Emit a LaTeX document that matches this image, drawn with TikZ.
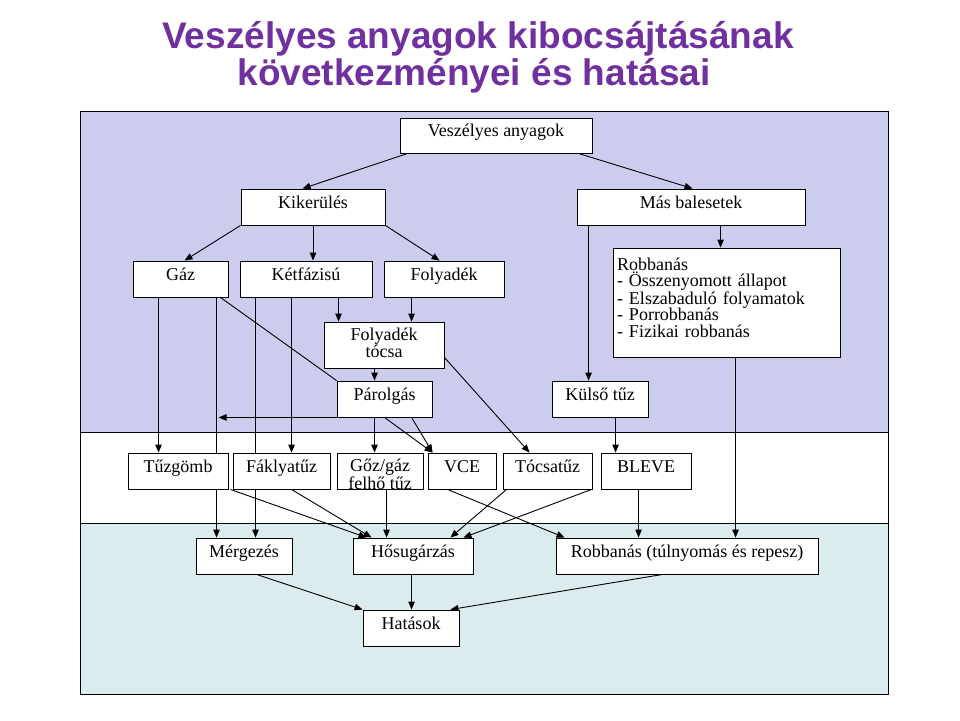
\documentclass[tikz,border=0pt]{standalone}
\usepackage{fontspec}
\setmainfont{Liberation Serif}
\newfontfamily\titlefont{Liberation Sans}
\usetikzlibrary{arrows.meta,calc}
\definecolor{lav}{RGB}{204,204,238}
\definecolor{aqua}{RGB}{218,236,238}
\definecolor{ttl}{RGB}{112,48,160}
\pgfdeclarelayer{panel}
\pgfdeclarelayer{conn}
\pgfsetlayers{panel,conn,main}
\tikzset{
  box/.style={draw=black, line width=0.9pt, fill=white, inner sep=0pt,
    text height=12pt, text depth=10pt, align=center,
    font=\fontsize{18}{16.5}\selectfont},
  arr/.style={line width=0.9pt, -{Triangle[length=8pt,width=6.5pt]}},
  ln/.style={line width=0.9pt},
  ttlstyle/.style={font=\titlefont\bfseries\fontsize{37}{37}\selectfont, text=ttl, anchor=base, inner sep=0pt}
}
\begin{document}
\begin{tikzpicture}[x=1pt,y=-1pt]
\useasboundingbox (0,0) rectangle (960,720);
% title
\node[ttlstyle] (title1) at (478,48) {Veszélyes anyagok kibocsájtásának};
\node[ttlstyle] (title2) at (474,85) {következményei és hatásai};
% panels
\begin{pgfonlayer}{panel}
\fill[lav] (80,111) rectangle (888,432);
\fill[white] (80,432) rectangle (888,523);
\fill[aqua] (80,523) rectangle (888,694);
\draw[line width=0.9pt] (80,111) rectangle (888,694);
\draw[line width=0.9pt] (80,432) -- (888,432);
\draw[line width=0.9pt] (80,523) -- (888,523);
\end{pgfonlayer}
% nodes
\node[box, minimum width=192pt, minimum height=35pt] (vesz) at (496,135.5) {Veszélyes anyagok};
\node[box, minimum width=144pt, minimum height=36pt] (kik) at (313,207) {Kikerülés};
\node[box, minimum width=228pt, minimum height=36pt] (mas) at (691,207) {Más balesetek};
\node[box, minimum width=95pt, minimum height=36pt] (gaz) at (180.5,279) {Gáz};
\node[box, minimum width=132pt, minimum height=36pt] (ket) at (306,279) {Kétfázisú};
\node[box, minimum width=120pt, minimum height=36pt] (foly) at (444,279) {Folyadék};
\node[box, align=left, text width=219pt, inner xsep=4pt, minimum height=109pt, text height=12pt, text depth=77pt] (robb) at (726.5,302.5)
  {Robbanás\\- Összenyomott állapot\\- Elszabaduló folyamatok\\- Porrobbanás\\- Fizikai robbanás};
\node[box, minimum width=120pt, minimum height=46pt, text height=29pt, text depth=5pt, font=\fontsize{18}{17}\selectfont] (tocsa) at (384,345) {Folyadék\\tócsa};
\node[box, minimum width=95pt, minimum height=36pt] (parol) at (384.5,399) {Párolgás};
\node[box, minimum width=96pt, minimum height=36pt] (kulso) at (600,399) {Külső tűz};
\node[box, minimum width=100pt, minimum height=36pt] (tuzg) at (178,471) {Tűzgömb};
\node[box, minimum width=97pt, minimum height=36pt] (fakly) at (281.5,471) {Fáklyatűz};
\node[box, minimum width=86pt, minimum height=36pt, text height=36pt, text depth=0pt, font=\fontsize{18}{15}\selectfont] (goz) at (380,471) {Gőz/gáz\\felhő tűz};
\node[box, minimum width=68pt, minimum height=36pt] (vce) at (462,471) {VCE};
\node[box, minimum width=89pt, minimum height=36pt] (tocsat) at (547.5,471) {Tócsatűz};
\node[box, minimum width=90pt, minimum height=36pt] (bleve) at (646,471) {BLEVE};
\node[box, minimum width=96pt, minimum height=36pt] (merg) at (244,556) {Mérgezés};
\node[box, minimum width=120pt, minimum height=36pt] (hosug) at (413,556) {Hősugárzás};
\node[box, minimum width=262pt, minimum height=36pt] (robt) at (687,556) {Robbanás (túlnyomás és repesz)};
\node[box, minimum width=96pt, minimum height=36pt] (hat) at (411,628) {Hatások};
% connectors
\begin{pgfonlayer}{conn}
\coordinate (v1) at ([xshift=8pt]vesz.south west);
\coordinate (v2) at ([xshift=-14pt]vesz.south east);
\draw[arr] (v1) -- ([xshift=62pt]kik.north west);
\draw[arr] (v2) -- ([xshift=116pt]mas.north west);
\draw[arr] (kik.south west) -- ([xshift=52pt]gaz.north west);
\draw[arr] (kik.south) -- (kik.south |- ket.north);
\draw[arr] (kik.south east) -- ([xshift=56pt]foly.north west);
\coordinate (m1) at ([xshift=144pt]mas.south west);
\draw[arr] (m1) -- (m1 |- robb.north);
\coordinate (m2) at ([xshift=12pt]mas.south west);
\draw[arr] (m2) -- (m2 |- kulso.north);
\coordinate (r1) at ([xshift=123pt]robb.south west);
\draw[arr] (r1) -- (r1 |- robt.north);
\coordinate (g1) at ([xshift=26pt]gaz.south west);
\draw[arr] (g1) -- (g1 |- tuzg.north);
\coordinate (g2) at ([xshift=84pt]gaz.south west);
\draw[arr] (g2) -- (g2 |- merg.north);
\draw[ln] ([xshift=-8pt]gaz.south east) -- (parol.north west);
\coordinate (k1) at ([xshift=16pt]ket.south west);
\draw[arr] (k1) -- (k1 |- merg.north);
\coordinate (k2) at ([xshift=52pt]ket.south west);
\draw[arr] (k2) -- (k2 |- fakly.north);
\coordinate (k3) at ([xshift=99pt]ket.south west);
\draw[arr] (k3) -- (k3 |- tocsa.north);
\coordinate (f1) at ([xshift=28pt]foly.south west);
\draw[arr] (f1) -- (f1 |- tocsa.north);
\coordinate (c1) at ([xshift=51pt]tocsa.south west);
\draw[arr] (c1) -- (c1 |- parol.north);
\draw[arr] ([yshift=11pt]tocsa.south east) -- ([xshift=27pt]tocsat.north west);
\coordinate (p0) at (g2 |- parol.south west);
\draw[arr] (parol.south west) -- ([xshift=2pt]p0);
\coordinate (p1) at ([xshift=38pt]parol.south west);
\draw[arr] (p1) -- (p1 |- goz.north);
\draw[arr] ([xshift=48pt]parol.south west) -- ([xshift=5pt]vce.north west);
\draw[arr] ([xshift=75pt]parol.south west) -- ([xshift=5pt]vce.north west);
\coordinate (q1) at ([xshift=64pt]kulso.south west);
\draw[arr] (q1) -- (q1 |- bleve.north);
\draw[arr] ([xshift=2pt]tuzg.south east) -- ([xshift=14pt]hosug.north west);
\draw[arr] ([xshift=59pt]fakly.south west) -- ([xshift=19pt]hosug.north west);
\coordinate (z1) at ([xshift=50pt]goz.south west);
\draw[arr] (z1) -- (z1 |- hosug.north);
\draw[arr] ([xshift=20pt]vce.south west) -- ([xshift=9pt]robt.north west);
\draw[arr] ([xshift=4pt]tocsat.south west) -- ([xshift=-23pt]hosug.north east);
\draw[arr] ([xshift=-1pt]tocsat.south east) -- ([xshift=-10pt]hosug.north east);
\coordinate (b1) at ([xshift=38pt]bleve.south west);
\draw[arr] (b1) -- (b1 |- robt.north);
\draw[arr] ([xshift=61pt]merg.south west) -- (hat.north west);
\coordinate (h1) at ([xshift=59pt]hosug.south west);
\draw[arr] (h1) -- (h1 |- hat.north);
\draw[arr] ([xshift=107pt]robt.south west) -- ([xshift=-9pt]hat.north east);
\end{pgfonlayer}
\end{tikzpicture}
\end{document}
